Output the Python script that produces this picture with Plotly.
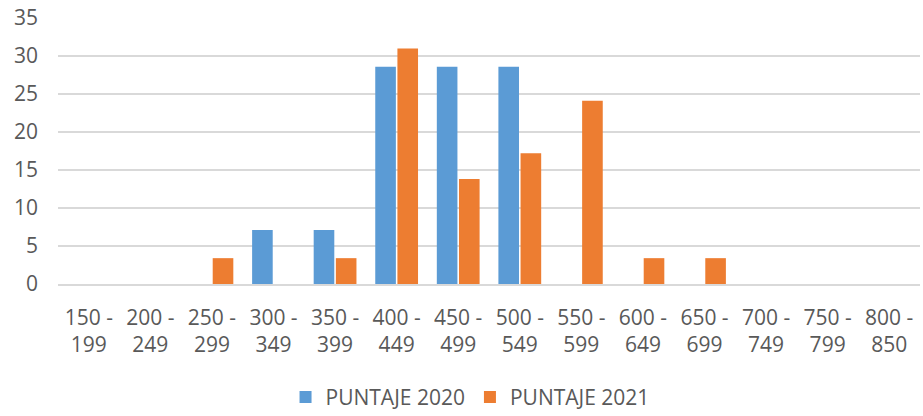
import plotly.graph_objects as go

categories = ["150 -<br>199", "200 -<br>249", "250 -<br>299", "300 -<br>349", "350 -<br>399",
              "400 -<br>449", "450 -<br>499", "500 -<br>549", "550 -<br>599", "600 -<br>649",
              "650 -<br>699", "700 -<br>749", "750 -<br>799", "800 -<br>850"]
puntaje_2020 = [0, 0, 0, 7.1, 7.1, 28.6, 28.6, 28.6, 0, 0, 0, 0, 0, 0]
puntaje_2021 = [0, 0, 3.4, 0, 3.4, 31.0, 13.8, 17.2, 24.1, 3.4, 3.4, 0, 0, 0]
y_ticks = [0, 5, 10, 15, 20, 25, 30, 35]

FONT = "Open Sans, sans-serif"
GREY = "#595959"

fig = go.Figure()
fig.add_trace(go.Bar(x=categories, y=puntaje_2020, name="PUNTAJE 2020",
                     marker=dict(color="#5B9BD5", line=dict(width=0))))
fig.add_trace(go.Bar(x=categories, y=puntaje_2021, name="PUNTAJE 2021",
                     marker=dict(color="#ED7D31", line=dict(width=0))))

fig.update_layout(
    width=923, height=416,
    margin=dict(l=58, r=3, t=18, b=132),
    paper_bgcolor="white", plot_bgcolor="white",
    barmode="group", bargap=0.28, bargroupgap=0.07,
    font=dict(family=FONT, size=21, color=GREY),
    showlegend=True,
    legend=dict(orientation="h", x=0.478, xanchor="center",
                yref="container", y=0.045, yanchor="middle",
                font=dict(family=FONT, size=21, color=GREY), itemwidth=30,
                traceorder="normal"),
    xaxis=dict(showgrid=False, showline=True, linecolor="#D9D9D9", linewidth=1.5,
               ticks="", tickfont=dict(family=FONT, size=21, color=GREY),
               tickangle=0, automargin=False, ticklabelstandoff=14),
    yaxis=dict(range=[0, 35], tickvals=y_ticks, showgrid=True, gridcolor="#D9D9D9",
               gridwidth=1.5, zeroline=False, showline=False, ticks="",
               tickfont=dict(family=FONT, size=21, color=GREY), ticklabelstandoff=19,
               automargin=False),
)

fig.write_html("out.html", config={"displayModeBar": False},
               post_script="document.body.style.margin='0';")
